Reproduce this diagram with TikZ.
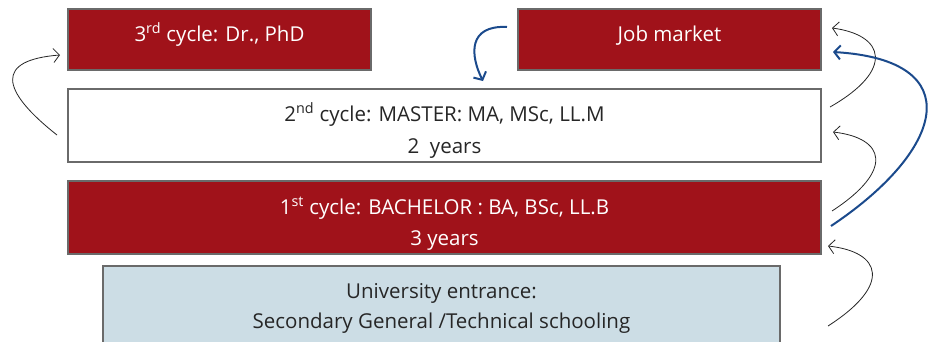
\documentclass[tikz,border=0pt]{standalone}
\usepackage{fontspec}
\setmainfont{Open Sans}
\usetikzlibrary{arrows.meta}
\definecolor{cred}{HTML}{A0121A}
\definecolor{cblue}{HTML}{1B4A8C}
\definecolor{cpale}{HTML}{CCDDE5}
\definecolor{cedge}{HTML}{6A6A6A}
\begin{document}
\begin{tikzpicture}[x=1pt,y=-1pt,
  box/.style={draw=cedge,line width=1.2pt,inner sep=0pt},
  redbox/.style={box,fill=cred},
  txt/.style={anchor=base,inner sep=0pt,font=\fontsize{20.5}{24}\selectfont,text=black!85},
  wtxt/.style={txt,text=white},
  thin/.style={draw=black!85,line width=0.8pt,-{Straight Barb[length=6pt,width=14pt]}},
  blue/.style={draw=cblue,line width=2pt,-{Straight Barb[length=6pt,width=14pt]}}]
\useasboundingbox (0,0) rectangle (935,341);
\node[redbox,minimum width=303pt,minimum height=61pt] (phd) at (219.5,39.5) {};
\node[redbox,minimum width=303pt,minimum height=61pt] (job) at (669.5,39.5) {};
\node[box,fill=white,minimum width=753pt,minimum height=73pt] (master) at (444.5,125.5) {};
\node[redbox,minimum width=753pt,minimum height=73pt] (bach) at (444.5,217.5) {};
\node[box,fill=cpale,minimum width=677pt,minimum height=80pt] (uni) at (441.5,306) {};
\node[wtxt] (phdt) at (219.5,41) {3\textsuperscript{rd} cycle: Dr., PhD};
\node[wtxt] (jobt) at (669.5,41) {Job market};
\node[txt] (mast1) at (444.5,121) {2\textsuperscript{nd} cycle: MASTER: MA, MSc, LL.M};
\node[txt] (mast2) at (444.5,153) {2\ \ years};
\node[wtxt] (bach1) at (444.5,214) {1\textsuperscript{st} cycle: BACHELOR : BA, BSc, LL.B};
\node[wtxt] (bach2) at (444.5,245) {3 years};
\node[txt] (uni1) at (441.5,298) {University entrance:};
\node[txt] (uni2) at (441.5,328) {Secondary General /Technical schooling};
% connectors
\coordinate (a1s) at (57,135);
\coordinate (a1e) at (60,55);
\draw[thin] (a1s) .. controls (0,90) and (-5,60) .. (a1e);
\coordinate (b1s) at (507,27);
\coordinate (b1e) at (483,81);
\draw[blue] (b1s) .. controls (468,25) and (470,55) .. (b1e);
\coordinate (c1s) at (830,107);
\coordinate (c1e) at (832,28);
\draw[thin] (c1s) .. controls (895,70) and (885,35) .. (c1e);
\coordinate (c2s) at (832,211);
\coordinate (c2e) at (833,132);
\draw[thin] (c2s) .. controls (895,170) and (885,138) .. (c2e);
\coordinate (c3s) at (828,326);
\coordinate (c3e) at (828,246);
\draw[thin] (c3s) .. controls (892,285) and (882,252) .. (c3e);
\coordinate (d1s) at (831,226);
\coordinate (d1e) at (833,52);
\draw[blue] (d1s) .. controls (945,150) and (970,60) .. (d1e);
\end{tikzpicture}
\end{document}
